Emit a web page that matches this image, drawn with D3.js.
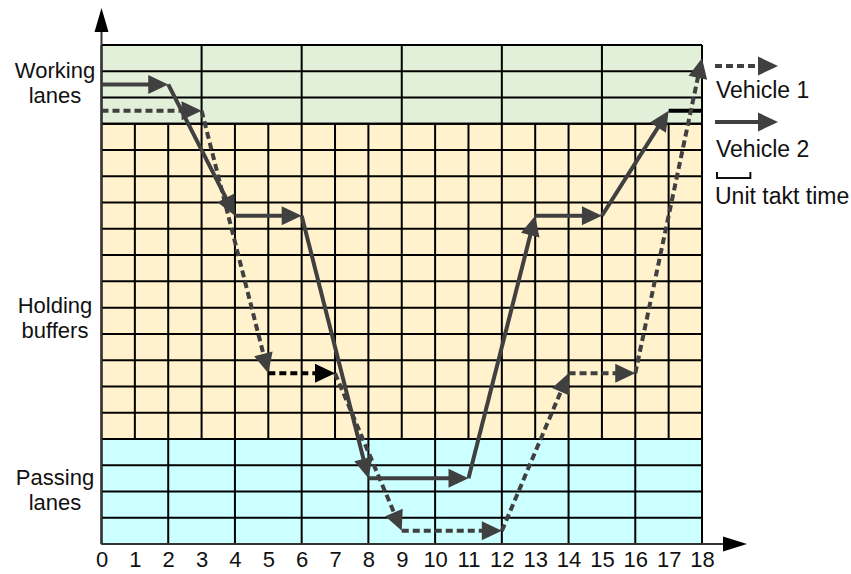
<!DOCTYPE html>
<html><head><meta charset="utf-8">
<script src="https://cdn.jsdelivr.net/npm/d3@7"></script>
<style>
html,body{margin:0;padding:0;background:#fff;}
svg{display:block;font-family:"Liberation Sans",Arial,sans-serif;}
</style></head>
<body>
<svg id="chart" width="851" height="574"></svg>
<script>
// ---- data ----
const xTicks = d3.range(0, 19);                       // 0..18
const zoneNames = ["Passing lanes", "Holding buffers", "Working lanes"];
const zoneFrom = [0, 4, 16];                           // row index (from bottom)
const zoneTo = [4, 16, 19];
const zoneColStep = [2, 1, 3];                         // vertical grid step (time units)
const zoneColors = ["#ccffff", "#fff2cc", "#e2efd9"];

const v1x = [0, 3, 5, 7, 9, 12, 14, 16, 18];
const v1y = [16.5, 16.5, 6.5, 6.5, 0.5, 0.5, 6.5, 6.5, 18.5];
const v2x = [0, 2, 4, 6, 8, 11, 13, 15, 17];
const v2y = [17.5, 17.5, 12.5, 12.5, 2.5, 2.5, 12.5, 12.5, 16.5];
const taktX = [17, 18], taktY = 16.5;
const legendLabels = ["Vehicle 1", "Vehicle 2", "Unit takt time"];

// ---- setup ----
const svg = d3.select("#chart");
const x = d3.scaleLinear().domain([0, 18]).range([101.5, 702]);
const y = d3.scaleLinear().domain([0, 19]).range([544, 45]);
const gray = "#404040";

// zones background
zoneNames.forEach((n, i) => {
  svg.append("rect")
    .attr("x", x(0)).attr("y", y(zoneTo[i]))
    .attr("width", x(18) - x(0)).attr("height", y(zoneFrom[i]) - y(zoneTo[i]))
    .attr("fill", zoneColors[i]);
});
// grid
const grid = svg.append("g").attr("stroke", "#000").attr("stroke-width", 2);
zoneNames.forEach((n, i) => {
  d3.range(zoneFrom[i], zoneTo[i] + 1).forEach(r => {
    grid.append("line").attr("x1", x(0)).attr("x2", x(18)).attr("y1", y(r)).attr("y2", y(r));
  });
  d3.range(0, 18 + 0.001, zoneColStep[i]).forEach(c => {
    grid.append("line").attr("x1", x(c)).attr("x2", x(c)).attr("y1", y(zoneFrom[i])).attr("y2", y(zoneTo[i]));
  });
});

// zone labels (two lines each)
const midBase = [497.5, 325.5, 90];
const gap = 25;
zoneNames.forEach((n, i) => {
  const words = n.split(" ");
  words.forEach((w, k) => {
    svg.append("text").attr("x", 55).attr("y", midBase[i] + (k - 0.5) * gap)
      .attr("text-anchor", "middle").attr("font-size", 22).attr("fill", "#111").text(w);
  });
});

// axes arrows
svg.append("line").attr("x1", x(0)).attr("x2", x(0)).attr("y1", y(0)).attr("y2", 30)
  .attr("stroke", "#333").attr("stroke-width", 2);
svg.append("path").attr("d", `M${x(0)-7},32 L${x(0)},8 L${x(0)+7},32 Z`).attr("fill", "#000");
svg.append("line").attr("x1", x(0)).attr("x2", 725).attr("y1", y(0)).attr("y2", y(0))
  .attr("stroke", "#333").attr("stroke-width", 2);
svg.append("path").attr("d", `M723,${y(0)-7.5} L747,${y(0)} L723,${y(0)+7.5} Z`).attr("fill", "#000");

// x tick labels via d3 axis
const ax = svg.append("g").attr("transform", `translate(0,${y(0)})`)
  .call(d3.axisBottom(x).tickValues(xTicks).tickSize(0).tickPadding(7).tickFormat(d3.format("d")));
ax.select(".domain").remove();
ax.selectAll("text").attr("font-size", 22).attr("font-family", "Liberation Sans, Arial, sans-serif").attr("fill", "#111");

// arrow helper
function arrowSeg(g, x1, y1, x2, y2, color, dashed) {
  const dx = x2 - x1, dy = y2 - y1, L = Math.hypot(dx, dy);
  const ux = dx / L, uy = dy / L;
  const hl = 20, hw = 9.5;
  const ex = x2 - ux * (hl - 4), ey = y2 - uy * (hl - 4);
  g.append("line").attr("x1", x1).attr("y1", y1).attr("x2", ex).attr("y2", ey)
    .attr("stroke", color).attr("stroke-width", 4)
    .attr("stroke-dasharray", dashed ? "7,4" : null);
  const bx = x2 - ux * hl, by = y2 - uy * hl;
  g.append("path").attr("d",
    `M${x2},${y2} L${bx - uy * hw},${by + ux * hw} L${bx + uy * hw},${by - ux * hw} Z`)
    .attr("fill", color);
}

const paths = svg.append("g");
// takt line
paths.append("line").attr("x1", x(taktX[0])).attr("x2", x(taktX[1]))
  .attr("y1", y(taktY)).attr("y2", y(taktY)).attr("stroke", "#000").attr("stroke-width", 4);
// vehicle 2 (solid)
for (let i = 0; i < v2x.length - 1; i++) {
  arrowSeg(paths, x(v2x[i]), y(v2y[i]), x(v2x[i + 1]), y(v2y[i + 1]), gray, false);
}
// vehicle 1 (dashed)
for (let i = 0; i < v1x.length - 1; i++) {
  const col = (v1x[i] === 5 && v1x[i + 1] === 7) ? "#000" : gray;
  arrowSeg(paths, x(v1x[i]), y(v1y[i]), x(v1x[i + 1]), y(v1y[i + 1]), col, true);
}

// legend
const lg = svg.append("g");
arrowSeg(lg, 715, 66, 778, 66, gray, true);
lg.append("text").attr("x", 716).attr("y", 98).attr("font-size", 23).attr("fill", "#111").text(legendLabels[0]);
arrowSeg(lg, 715, 122, 778, 122, gray, false);
lg.append("text").attr("x", 716).attr("y", 157).attr("font-size", 23).attr("fill", "#111").text(legendLabels[1]);
const tw = x(1) - x(0);
lg.append("path").attr("d", `M717,172 L717,178 L${717 + tw},178 L${717 + tw},172`)
  .attr("fill", "none").attr("stroke", "#111").attr("stroke-width", 2);
lg.append("text").attr("x", 715).attr("y", 204).attr("font-size", 23).attr("fill", "#111").text(legendLabels[2]);
</script>
</body></html>
